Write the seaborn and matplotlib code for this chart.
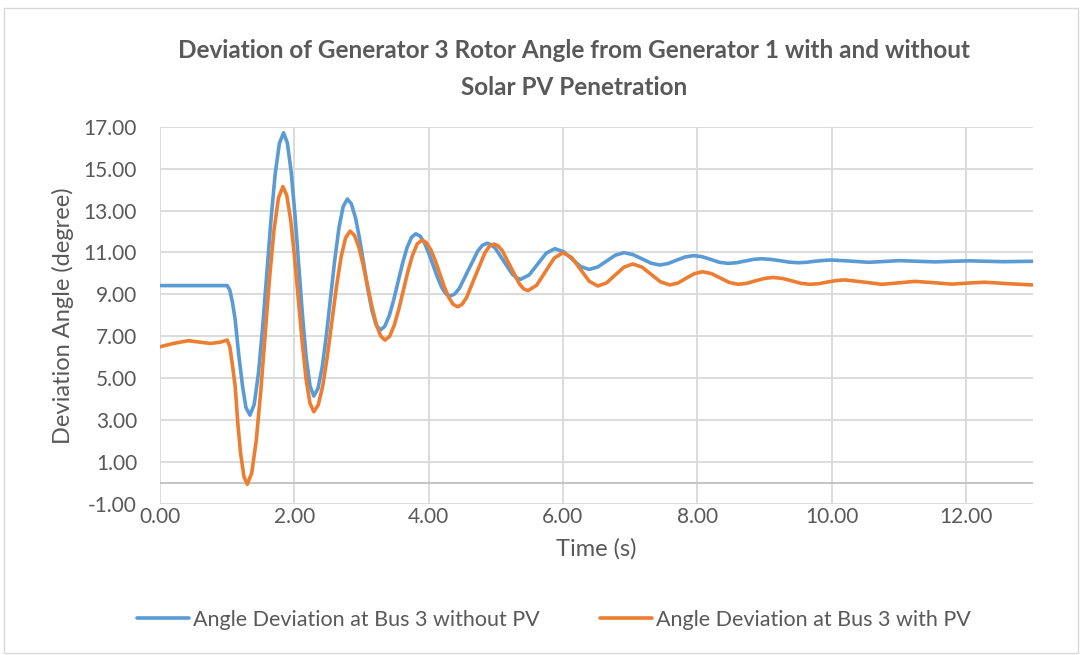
import matplotlib
matplotlib.use("Agg")
import matplotlib.pyplot as plt
import seaborn as sns
import pandas as pd
from matplotlib.patches import Rectangle
from matplotlib.lines import Line2D

# ---- data ----
time_no_pv = [0.00, 0.50, 1.00, 1.04, 1.08, 1.12, 1.17, 1.23, 1.28, 1.34,
              1.4025, 1.465, 1.5275, 1.59, 1.6525, 1.715, 1.7775, 1.84,
              1.896, 1.9525, 2.009, 2.065, 2.121, 2.1775, 2.234, 2.29,
              2.3525, 2.415, 2.4775, 2.54, 2.6025, 2.665, 2.7275, 2.79,
              2.851, 2.9125, 2.974, 3.035, 3.096, 3.1575, 3.219, 3.28,
              3.346, 3.4125, 3.479, 3.545, 3.611, 3.6775, 3.744, 3.81,
              3.874, 3.9375, 4.001, 4.065, 4.129, 4.1925, 4.256, 4.32,
              4.389, 4.4575, 4.595, 4.7325, 4.801, 4.87,
              4.9325, 4.995, 5.12, 5.245, 5.3075, 5.37,
              5.4975, 5.625, 5.7525, 5.88, 6.0075, 6.135, 6.2625, 6.39,
              6.52, 6.65, 6.78, 6.91, 7.04, 7.175, 7.31, 7.44,
              7.565, 7.69, 7.815, 7.94, 8.07, 8.20, 8.33, 8.46,
              8.585, 8.71, 8.835, 8.96, 9.095, 9.23, 9.365, 9.50,
              9.625, 9.75, 9.875, 10.00, 10.28, 10.55, 10.78, 11.00,
              11.28, 11.55, 11.80, 12.05, 12.55, 13.00]
angle_no_pv = [9.42, 9.42, 9.42, 9.20, 8.60, 7.78, 6.19, 4.60, 3.60, 3.24,
               3.75, 5.21, 7.40, 9.975, 12.55, 14.74, 16.20, 16.71,
               16.23, 14.88, 12.83, 10.43, 8.03, 5.98, 4.63, 4.15,
               4.51, 5.52, 7.05, 8.85, 10.65, 12.18, 13.19, 13.55,
               13.31, 12.64, 11.62, 10.43, 9.23, 8.21, 7.54, 7.30,
               7.47, 7.97, 8.72, 9.60, 10.47, 11.22, 11.72, 11.89,
               11.78, 11.46, 10.97, 10.41, 9.84, 9.35, 9.03, 8.92,
               9.02, 9.29, 10.18, 11.07, 11.34, 11.44,
               11.37, 11.19, 10.58, 9.97, 9.79, 9.72,
               9.93, 10.45, 10.97, 11.18, 11.04, 10.69, 10.33, 10.19,
               10.31, 10.59, 10.87, 10.99, 10.90, 10.70, 10.49, 10.40,
               10.47, 10.63, 10.78, 10.85, 10.80, 10.67, 10.53, 10.48,
               10.51, 10.59, 10.67, 10.70, 10.67, 10.61, 10.54, 10.51,
               10.53, 10.58, 10.62, 10.64, 10.59, 10.53, 10.57, 10.61,
               10.58, 10.55, 10.58, 10.60, 10.56, 10.58]

time_pv = [0.00, 0.20, 0.42, 0.60, 0.75, 0.90, 1.00, 1.04, 1.08, 1.12,
           1.16, 1.20, 1.25, 1.30, 1.366, 1.4325, 1.499, 1.565, 1.631,
           1.6975, 1.764, 1.83,
           1.8875, 1.945, 2.0025, 2.06, 2.1175, 2.175, 2.2325, 2.29,
           2.3575, 2.425, 2.4925, 2.56, 2.6275, 2.695, 2.7625, 2.83,
           2.895, 2.96, 3.025, 3.09, 3.155, 3.22, 3.285, 3.35,
           3.419, 3.4875, 3.556, 3.625, 3.694, 3.7625, 3.831, 3.90,
           3.966, 4.0325, 4.099, 4.165, 4.231, 4.2975, 4.364, 4.43,
           4.4975, 4.565, 4.70, 4.835, 4.9025, 4.97,
           5.034, 5.0975, 5.225, 5.3525, 5.416, 5.48,
           5.61, 5.74, 5.87, 6.00,
           6.13, 6.26, 6.39, 6.52, 6.65, 6.78, 6.91, 7.04,
           7.1775, 7.315, 7.4525, 7.59, 7.7125, 7.835, 7.9575, 8.08,
           8.2125, 8.345, 8.4775, 8.61, 8.74, 8.87, 9.00, 9.13,
           9.27, 9.405, 9.54, 9.68, 9.81, 9.94, 10.07, 10.20,
           10.475, 10.75, 11.00, 11.24, 11.515, 11.79, 12.035, 12.28,
           12.64, 13.00]
angle_pv = [6.50, 6.66, 6.79, 6.72, 6.66, 6.72, 6.82, 6.50, 5.60, 4.60,
            2.80, 1.42, 0.30, -0.06, 0.48, 2.01, 4.32, 7.04, 9.76,
            12.07, 13.60, 14.14,
            13.73, 12.57, 10.82, 8.77, 6.72, 4.97, 3.81, 3.40,
            3.73, 4.66, 6.06, 7.71, 9.36, 10.76, 11.69, 12.02,
            11.82, 11.26, 10.41, 9.42, 8.43, 7.58, 7.02, 6.82,
            7.00, 7.52, 8.29, 9.21, 10.12, 10.89, 11.41, 11.59,
            11.47, 11.13, 10.61, 10.00, 9.39, 8.87, 8.53, 8.41,
            8.52, 8.85, 9.91, 10.96, 11.29, 11.40,
            11.32, 11.08, 10.29, 9.50, 9.26, 9.18,
            9.44, 10.09, 10.73, 10.99,
            10.76, 10.20, 9.63, 9.40, 9.55, 9.93, 10.30, 10.45,
            10.30, 9.95, 9.60, 9.45, 9.54, 9.77, 9.99, 10.08,
            9.99, 9.78, 9.57, 9.48, 9.53, 9.65, 9.76, 9.81,
            9.76, 9.65, 9.53, 9.48, 9.51, 9.59, 9.66, 9.69,
            9.59, 9.48, 9.55, 9.62, 9.56, 9.49, 9.54, 9.58,
            9.51, 9.45]

series_names = ["Angle Deviation at Bus 3 without PV",
                "Angle Deviation at Bus 3 with PV"]
series_colors = ["#5B9BD5", "#ED7D31"]

x_ticks = [0, 2, 4, 6, 8, 10, 12]
y_ticks = [-1, 1, 3, 5, 7, 9, 11, 13, 15, 17]

title_text = ("Deviation of Generator 3 Rotor Angle from Generator 1 with and without\n"
              "Solar PV Penetration")
x_label = "Time (s)"
y_label = "Deviation Angle (degree)"

# ---- build long-form data ----
df = pd.concat([
    pd.DataFrame({"Time": time_no_pv, "Angle": angle_no_pv, "Series": series_names[0]}),
    pd.DataFrame({"Time": time_pv, "Angle": angle_pv, "Series": series_names[1]}),
], ignore_index=True)

sns.set_theme(style="white")
plt.rcParams["font.family"] = ["Lato", "DejaVu Sans"]

text_color = "#595959"
grid_color = "#D9D9D9"

fig = plt.figure(figsize=(10.8, 6.55), dpi=100)
ax = fig.add_axes([160 / 1080, 1 - 504 / 655, (1033 - 160) / 1080, (504 - 126.7) / 655])

sns.lineplot(data=df, x="Time", y="Angle", hue="Series", palette=series_colors,
             hue_order=series_names, linewidth=2.6, ax=ax, sort=False,
             estimator=None, legend=False)

ax.set_xlim(0, 13)
ax.set_ylim(-1, 17)
ax.set_xticks(x_ticks)
ax.set_yticks(y_ticks)
ax.set_xticklabels([f"{v:.2f}" for v in x_ticks])
ax.set_yticklabels([f"{v:.2f}" for v in y_ticks])
ax.tick_params(axis="both", length=0, labelsize=15, colors=text_color)
ax.tick_params(axis="x", pad=2)
ax.tick_params(axis="y", pad=16.5)

for s in ax.spines.values():
    s.set_visible(False)
ax.grid(True, color=grid_color, linewidth=1.3)
ax.set_axisbelow(True)
ax.axhline(0, color="#BFBFBF", linewidth=1.3, zorder=1)

ax.set_xlabel(x_label, fontsize=17, color=text_color, labelpad=8)
ax.set_ylabel(y_label, fontsize=17, color=text_color, labelpad=7)

fig.text(574 / 1080, 1 - 69 / 655, title_text, ha="center", va="center",
         fontsize=17.5, fontweight="bold", color=text_color, linespacing=1.7)

# legend
handles = [Line2D([0], [0], color=c, linewidth=2.6) for c in series_colors]
fig.legend(handles, series_names, loc="center", bbox_to_anchor=(554 / 1080, 1 - 620 / 655),
           ncol=2, frameon=False, fontsize=15.5, handlelength=2.4, handletextpad=0.2,
           columnspacing=2.8, labelcolor=text_color)

# chart border
fig.patches.append(Rectangle((4 / 1080, 2 / 655), 1074 / 1080, 645 / 655,
                             transform=fig.transFigure, fill=False,
                             edgecolor=grid_color, linewidth=1.0))

fig.savefig("out.png", dpi=100, facecolor="white")
